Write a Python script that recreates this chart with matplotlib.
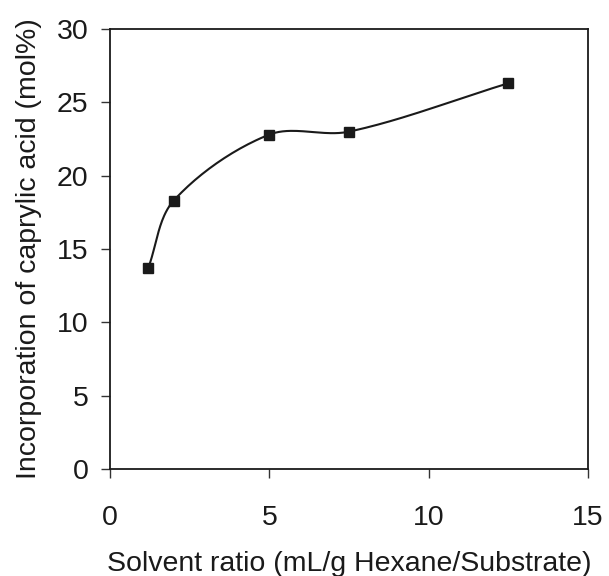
import numpy as np
import matplotlib
matplotlib.use("Agg")
import matplotlib.pyplot as plt

solvent_ratio = [1.2, 2.0, 5.0, 7.5, 12.5]
incorporation = [13.7, 18.3, 22.8, 23.0, 26.3]
x_ticks = [0, 5, 10, 15]
y_ticks = [0, 5, 10, 15, 20, 25, 30]

plt.rcParams['font.family'] = ['Liberation Sans', 'DejaVu Sans']

fig = plt.figure(figsize=(6.09, 5.76), dpi=100)
ax = fig.add_axes([0.1806, 0.1858, 0.785, 0.7639])
ax.set_xlim(0, 15)
ax.set_ylim(0, 30)


def smooth_curve(ax, xs, ys, n=40):
    # chord-weighted Bezier smoothing computed in display space
    P = ax.transData.transform(np.column_stack([xs, ys]).astype(float))
    out = []
    for i in range(len(P) - 1):
        p0 = P[i - 1] if i > 0 else P[i]
        p1 = P[i]
        p2 = P[i + 1]
        p3 = P[i + 2] if i + 2 < len(P) else P[i + 1]
        d01 = np.linalg.norm(p1 - p0)
        d12 = np.linalg.norm(p2 - p1)
        d23 = np.linalg.norm(p3 - p2)
        t1 = (p2 - p0) * (d12 / (d01 + d12)) / 3.0 if d01 > 0 else (p2 - p1) / 3.0
        t2 = (p3 - p1) * (d12 / (d12 + d23)) / 3.0 if d23 > 0 else (p2 - p1) / 3.0
        c1 = p1 + t1
        c2 = p2 - t2
        t = np.linspace(0, 1, n)[:, None]
        seg = ((1 - t) ** 3) * p1 + 3 * ((1 - t) ** 2) * t * c1 + 3 * (1 - t) * t ** 2 * c2 + t ** 3 * p2
        out.append(seg if i == 0 else seg[1:])
    c = ax.transData.inverted().transform(np.vstack(out))
    return c[:, 0], c[:, 1]


cx, cy = smooth_curve(ax, solvent_ratio, incorporation)
ax.plot(cx, cy, color='#1a1a1a', lw=1.5, zorder=2)
ax.plot(solvent_ratio, incorporation, ls='none', marker='s', ms=7.5,
        color='#1a1a1a', zorder=3)

ax.set_xticks(x_ticks)
ax.set_yticks(y_ticks)
ax.tick_params(axis='both', direction='out', length=6.8, width=1, color='#333333',
               labelsize=20.5, labelcolor='#1a1a1a')
ax.tick_params(axis='x', pad=19)
ax.tick_params(axis='y', pad=8.5)
for s in ax.spines.values():
    s.set_linewidth(1.3)
    s.set_color('#1a1a1a')

ax.set_xlabel('Solvent ratio (mL/g Hexane/Substrate)', fontsize=20.5, color='#1a1a1a', labelpad=14.5)
ax.set_ylabel('Incorporation of caprylic acid (mol%)', fontsize=20.5, color='#1a1a1a', labelpad=11)

fig.savefig('out.png', dpi=100)
